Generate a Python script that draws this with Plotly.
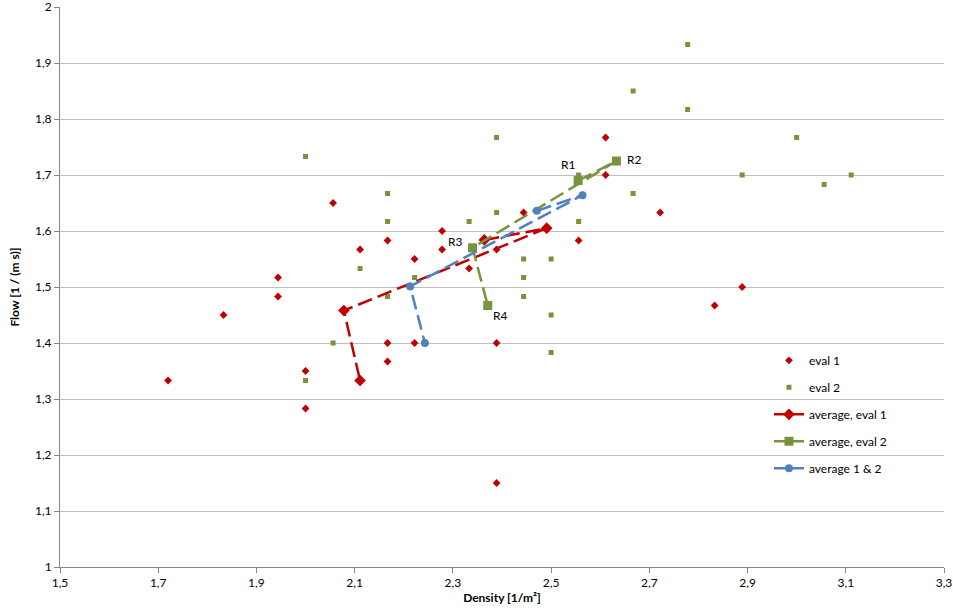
import plotly.graph_objects as go

# eval 1 (individual measurements)
eval1_density = [1.72, 1.833, 1.944, 1.944, 2.0, 2.0, 2.056, 2.111, 2.111, 2.167, 2.167, 2.167,
                 2.222, 2.222, 2.278, 2.278, 2.333, 2.364, 2.389, 2.389, 2.389, 2.444, 2.556,
                 2.611, 2.611, 2.722, 2.833, 2.889]
eval1_flow = [1.333, 1.45, 1.517, 1.483, 1.35, 1.283, 1.65, 1.567, 1.333, 1.583, 1.4, 1.367,
              1.55, 1.4, 1.6, 1.567, 1.533, 1.583, 1.567, 1.4, 1.15, 1.633, 1.583,
              1.7, 1.767, 1.633, 1.467, 1.5]

# eval 2 (individual measurements)
eval2_density = [2.0, 2.0, 2.056, 2.111, 2.167, 2.167, 2.167, 2.222, 2.333, 2.389, 2.389, 2.444,
                 2.444, 2.444, 2.5, 2.5, 2.5, 2.556, 2.556, 2.667, 2.667, 2.778, 2.778, 2.889,
                 3.0, 3.056, 3.111]
eval2_flow = [1.733, 1.333, 1.4, 1.533, 1.667, 1.617, 1.483, 1.517, 1.617, 1.767, 1.633, 1.55,
              1.517, 1.483, 1.55, 1.45, 1.383, 1.7, 1.617, 1.85, 1.667, 1.933, 1.817, 1.7,
              1.767, 1.683, 1.7]

# averages per run R1..R4
runs = ["R1", "R2", "R3", "R4"]
avg1_density = [2.364, 2.491, 2.078, 2.111]
avg1_flow = [1.584, 1.605, 1.458, 1.333]
avg2_density = [2.555, 2.633, 2.34, 2.371]
avg2_flow = [1.69, 1.725, 1.57, 1.467]
avg12_density = [2.471, 2.564, 2.213, 2.243]
avg12_flow = [1.636, 1.664, 1.501, 1.4]

RED = "#C00000"
GREEN = "#77933C"
BLUE = "#4F81BD"
FONT = "Lato, 'Open Sans', sans-serif"

fig = go.Figure()

fig.add_trace(go.Scatter(x=eval1_density, y=eval1_flow, mode="markers", name="eval 1",
                         legendgroup="e1",
                         marker=dict(symbol="diamond", size=6, color=RED)))
fig.add_trace(go.Scatter(x=eval2_density, y=eval2_flow, mode="markers", name="eval 2",
                         legendgroup="e2",
                         marker=dict(symbol="square", size=5, color=GREEN)))

avg_series = [
    ("average, eval 1", avg1_density, avg1_flow, RED, "diamond", 9),
    ("average, eval 2", avg2_density, avg2_flow, GREEN, "square", 9),
    ("average 1 & 2", avg12_density, avg12_flow, BLUE, "circle", 8),
]
for name, xs, ys, col, sym, sz in avg_series:
    # dashed line in the plot, solid in the legend
    fig.add_trace(go.Scatter(x=xs, y=ys, mode="lines+markers", name=name, showlegend=False,
                             line=dict(color=col, width=2.5, dash="15px,6px"),
                             marker=dict(symbol=sym, size=sz, color=col)))
    fig.add_trace(go.Scatter(x=[None], y=[None], mode="lines+markers", name=name,
                             legendgroup=name,
                             line=dict(color=col, width=2.5),
                             marker=dict(symbol=sym, size=sz, color=col)))

# run labels next to the eval 2 averages
label_shift = {"R1": (-10, 16), "R2": (18, 2), "R3": (-17, 6), "R4": (13, -10)}
for r, x, y in zip(runs, avg2_density, avg2_flow):
    dx, dy = label_shift[r]
    fig.add_annotation(x=x, y=y, text=r, showarrow=False, xshift=dx, yshift=dy,
                       font=dict(family=FONT, size=12, color="#000000"))

fig.update_layout(
    width=953, height=610,
    margin=dict(l=60, r=9, t=7, b=43, autoexpand=False),
    paper_bgcolor="white", plot_bgcolor="white",
    separators=", ",
    font=dict(family=FONT, size=12, color="#000000"),
    legend=dict(x=0.802, y=0.395, xanchor="left", yanchor="top",
                bgcolor="rgba(0,0,0,0)", tracegroupgap=8,
                font=dict(family=FONT, size=12)),
)
fig.update_xaxes(range=[1.5, 3.3], tick0=1.5, dtick=0.2, showgrid=False, zeroline=False,
                 showline=True, linecolor="#868686", linewidth=1, automargin=False,
                 ticks="outside", ticklen=5, tickcolor="#868686", ticklabeloverflow="allow",
                 title=dict(text="<b>Density [1/m²]</b>", standoff=4,
                            font=dict(family=FONT, size=12)))
fig.update_yaxes(range=[1, 2], dtick=0.1, showgrid=True, gridcolor="#BFBFBF", gridwidth=1,
                 zeroline=False, showline=True, linecolor="#868686", linewidth=1,
                 automargin=False, ticks="outside", ticklen=5, tickcolor="#868686",
                 ticklabeloverflow="allow",
                 title=dict(text="<b>Flow [1 / (m s)]</b>", standoff=12,
                            font=dict(family=FONT, size=12)))

# drop the browser's default page margin so the figure sits at the top-left corner
fig.write_html("out.html", config={"displayModeBar": False},
               post_script="document.body.style.margin='0px';")
